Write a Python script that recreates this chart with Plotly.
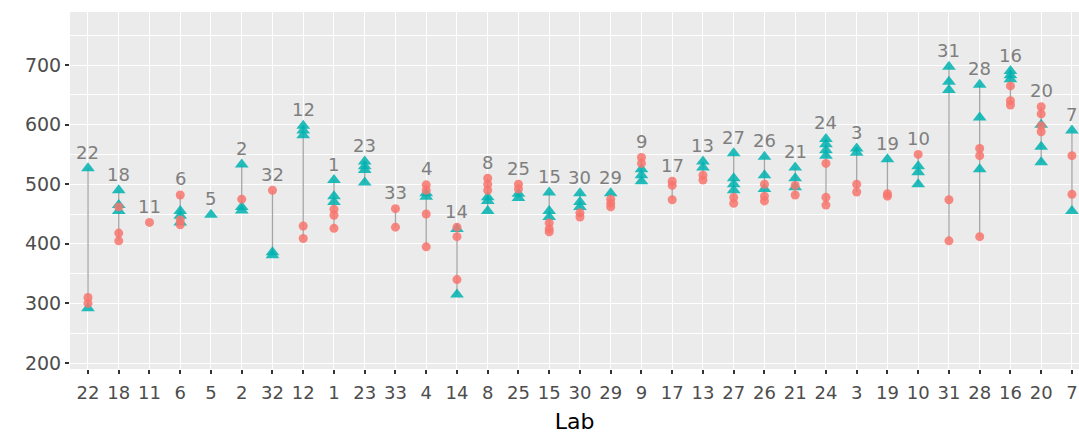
import plotly.graph_objects as go

labs = ["22", "18", "11", "6", "5", "2", "32", "12", "1", "23", "33", "4", "14", "8", "25",
        "15", "30", "29", "9", "17", "13", "27", "26", "21", "24", "3", "19", "10", "31",
        "28", "16", "20", "7"]

red_vals = [
    [310, 300], [462, 418, 405], [436], [482, 440, 432], [], [475], [490], [430, 409],
    [458, 448, 426], [], [459, 428], [499, 490, 450, 395], [428, 412, 340], [510, 500, 490],
    [500, 492], [435, 425, 420], [452, 445], [475, 468, 462], [545, 535], [505, 498, 474],
    [515, 507], [478, 468], [500, 480, 472], [498, 482], [535, 478, 465], [500, 487],
    [484, 480], [550], [474, 405], [560, 548, 412], [665, 640, 633], [630, 618, 598, 588],
    [548, 483],
]

teal_vals = [
    [527, 292], [490, 465, 455], [], [455, 447, 436], [449], [533, 462, 456], [386, 381],
    [598, 590, 582], [507, 480, 470], [538, 530, 524, 503], [], [485, 479], [425, 315],
    [478, 472, 455], [484, 477], [486, 455, 445], [485, 470, 462], [485], [525, 515, 505],
    [], [538, 528], [552, 510, 500, 490], [546, 515, 492], [528, 510, 495],
    [576, 567, 557, 548], [560, 553], [542], [530, 520, 500], [697, 672, 658],
    [667, 612, 525], [690, 683, 676], [600, 563, 537], [590, 455],
]

y_ticks = [200, 300, 400, 500, 600, 700]

RED = "#F8766D"
TEAL = "#00B3B0"

fig = go.Figure()

# range lines
lx, ly = [], []
for lab, r, t in zip(labs, red_vals, teal_vals):
    vals = r + t
    if len(vals) > 1:
        lx += [lab, lab, None]
        ly += [min(vals), max(vals), None]
fig.add_trace(go.Scatter(x=lx, y=ly, mode="lines",
                         line=dict(color="#A6A6A6", width=1.3),
                         hoverinfo="skip", showlegend=False))

tx, ty = [], []
for lab, t in zip(labs, teal_vals):
    tx += [lab] * len(t)
    ty += t
fig.add_trace(go.Scatter(x=tx, y=ty, mode="markers",
                         marker=dict(symbol="triangle-up", size=12, color=TEAL, opacity=0.85,
                                     line=dict(width=0)),
                         showlegend=False))

rx, ry = [], []
for lab, r in zip(labs, red_vals):
    rx += [lab] * len(r)
    ry += r
fig.add_trace(go.Scatter(x=rx, y=ry, mode="markers",
                         marker=dict(symbol="circle", size=9, color=RED, opacity=0.85,
                                     line=dict(width=0)),
                         showlegend=False))

for i, (lab, r, t) in enumerate(zip(labs, red_vals, teal_vals)):
    fig.add_annotation(x=i, y=max(r + t), text=lab, showarrow=False,
                       yshift=16, yanchor="middle",
                       font=dict(family="DejaVu Sans", size=18, color="#7F7F7F"))

fig.update_layout(
    width=1079, height=439,
    margin=dict(l=70, r=0, t=12, b=70),
    paper_bgcolor="white", plot_bgcolor="#EBEBEB",
    font=dict(family="DejaVu Sans", color="#4D4D4D"),
    showlegend=False,
)
fig.update_xaxes(
    type="category", categoryorder="array", categoryarray=labs,
    range=[-0.585, 32.23],
    showgrid=True, gridcolor="white", gridwidth=1.4,
    ticks="outside", ticklen=4, tickwidth=1.5, tickcolor="#333333",
    ticklabelstandoff=3,
    tickfont=dict(family="DejaVu Sans", size=18, color="#4D4D4D"),
    title=dict(text="Lab", font=dict(family="DejaVu Sans", size=22, color="black"), standoff=12),
    zeroline=False, showline=False,
)
fig.update_yaxes(
    range=[190, 789],
    tickvals=y_ticks,
    showgrid=True, gridcolor="white", gridwidth=1.4,
    minor=dict(tickvals=[250, 350, 450, 550, 650, 750], showgrid=True,
               gridcolor="white", gridwidth=0.6, ticks=""),
    ticks="outside", ticklen=4, tickwidth=1.5, tickcolor="#333333",
    tickfont=dict(family="DejaVu Sans", size=19, color="#4D4D4D"),
    zeroline=False, showline=False,
)

fig.write_html("out.html")
